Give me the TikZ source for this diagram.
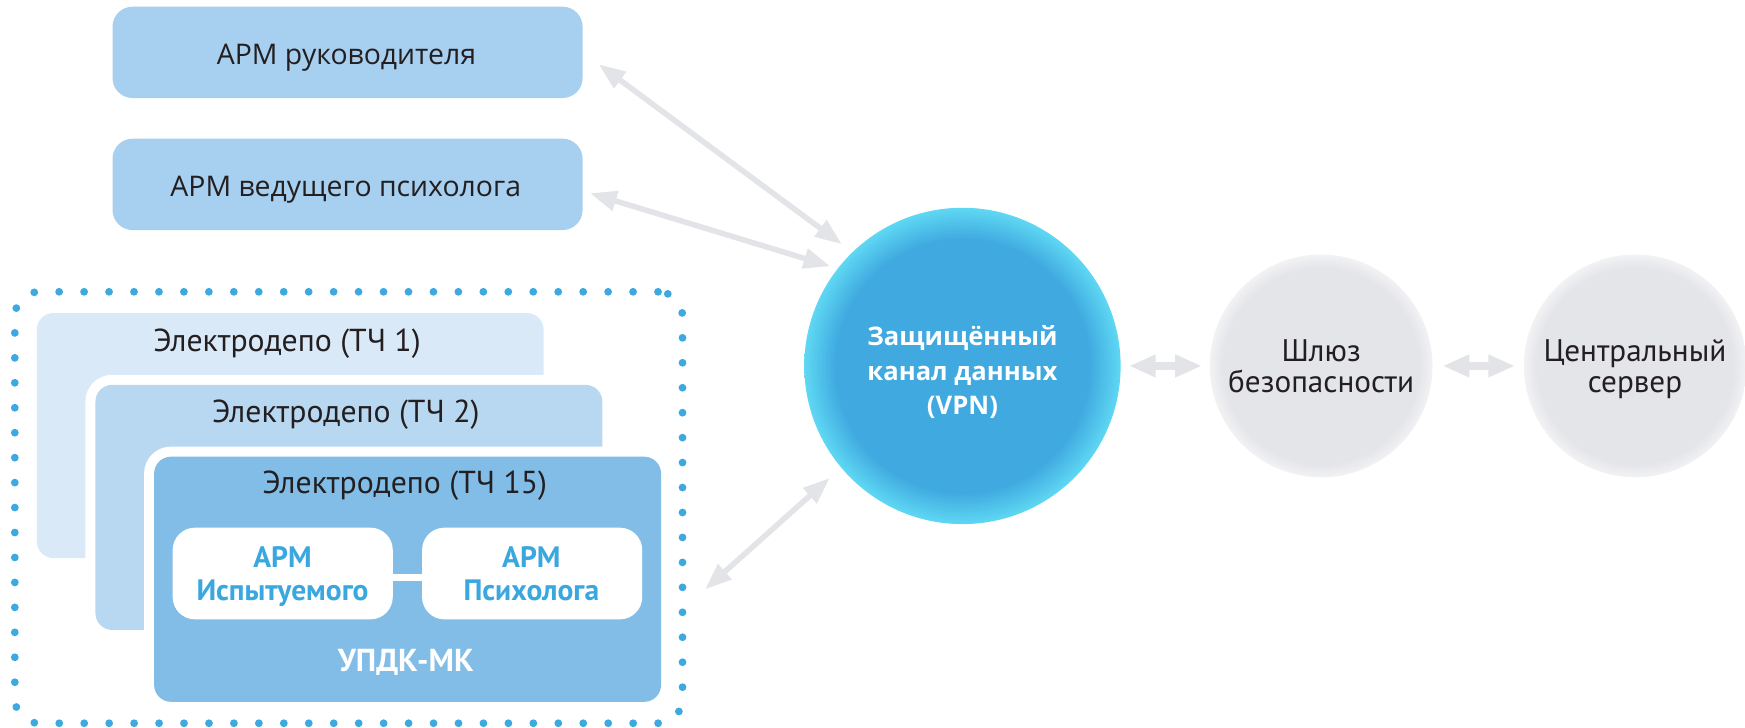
\documentclass[tikz,border=0pt]{standalone}
\usepackage{fontspec}
\setmainfont{Open Sans}
\newfontfamily\ptsans{PT Sans}
\usetikzlibrary{arrows.meta}
\definecolor{topfill}{HTML}{A7CFEF}
\definecolor{pone}{HTML}{D9E9F7}
\definecolor{ptwo}{HTML}{B8D8F1}
\definecolor{pthree}{HTML}{82BDE7}
\definecolor{dotblue}{HTML}{3DA9E1}
\definecolor{txtblue}{HTML}{3AA7DF}
\definecolor{arrowgray}{HTML}{E3E4E8}
\definecolor{darktext}{HTML}{231F20}
\definecolor{vpnblue}{HTML}{3FA9E0}
\definecolor{vpncyan}{HTML}{5FD8F3}
\definecolor{gcore}{HTML}{E4E5E9}
\definecolor{gedge}{HTML}{F2F2F4}
\pgfdeclareradialshading{vpnshade}{\pgfpoint{0bp}{0bp}}{color(0bp)=(vpnblue); color(20bp)=(vpnblue); color(25bp)=(vpncyan); color(50bp)=(vpncyan)}
\pgfdeclareradialshading{grayshade}{\pgfpoint{0bp}{0bp}}{color(0bp)=(gcore); color(22bp)=(gcore); color(25bp)=(gedge); color(50bp)=(gedge)}
\tikzset{
  tbox/.style={fill=topfill, rounded corners=18pt, minimum width=422pt, minimum height=82pt, inner sep=0pt, outer sep=0pt},
  panel/.style={rounded corners=15pt, minimum width=455pt, minimum height=220pt, inner sep=0pt, outer sep=0pt},
  halo/.style={preaction={draw=white, line width=18pt}},
  armbox/.style={fill=white, rounded corners=20pt, minimum width=197.6pt, minimum height=82.3pt, inner sep=0pt, outer sep=0pt},
  grpbox/.style={draw=dotblue, line width=7pt, line cap=round, dash pattern=on 0pt off 22.4pt, rounded corners=22pt, minimum width=599.4pt, minimum height=387.3pt, inner sep=0pt, outer sep=0pt},
  bigarrow/.style={draw=arrowgray, line width=5pt, arrows={Triangle[length=24pt,width=17.5pt]-Triangle[length=24pt,width=17.5pt]}},
  smallarrow/.style={draw=arrowgray, line width=7pt, arrows={Triangle[length=24pt,width=19pt]-Triangle[length=24pt,width=19pt]}},
  lbl/.style={font=\fontsize{25.5}{30}\selectfont, text=darktext, anchor=base, inner sep=0pt},
  dep/.style={font=\ptsans\fontsize{28.5}{32}\selectfont, text=darktext, anchor=base, inner sep=0pt},
  armtxt/.style={font=\ptsans\bfseries\fontsize{26.5}{30}\selectfont, text=txtblue, anchor=base, inner sep=0pt},
  updktxt/.style={font=\ptsans\bfseries\fontsize{28.5}{30}\selectfont, text=white, anchor=base, inner sep=0pt},
  vpntxt/.style={font=\bfseries\fontsize{23}{30}\selectfont, text=white, anchor=base, inner sep=0pt},
  gtxt/.style={font=\ptsans\fontsize{28}{30}\selectfont, text=darktext, anchor=base, inner sep=0pt},
  gcirc/.style={circle, shading=grayshade, minimum size=200pt, inner sep=0pt, outer sep=0pt},
}
\begin{document}
\begin{tikzpicture}[x=1pt,y=-1pt]
\useasboundingbox (0,0) rectangle (1566.5,653.5);
% top boxes
\node[tbox] (box1) at (312,47) {};
\node[lbl] (t1) at (311,57.8) {АРМ руководителя};
\node[tbox] (box2) at (312,165.5) {};
\node[lbl] (t2) at (310.4,176.3) {АРМ ведущего психолога};
% dotted group
\node[grpbox] (grp) at (313,455.6) {};
% depot panels
\node[panel, fill=pone] (p1) at (260.5,391) {};
\node[dep] (l1) at (257.6,315.7) {Электродепо (ТЧ 1)};
\node[panel, halo, fill=ptwo] (p2) at (313.2,455.5) {};
\node[dep] (l2) at (310.4,379.4) {Электродепо (ТЧ 2)};
\node[panel, halo, fill=pthree] (p3) at (365.9,520) {};
\node[dep] (l3) at (363.3,442.9) {Электродепо (ТЧ 15)};
% inner boxes
\node[armbox] (b1) at (253.8,514.85) {};
\node[armbox] (b2) at (477.7,514.85) {};
\draw[white, line width=6pt] ([yshift=-3.5pt]b1.east) -- ([yshift=-3.5pt]b2.west);
\node[armtxt] (b1a) at (253.6,509.5) {АРМ};
\node[armtxt] (b1b) at (253.6,539) {Испытуемого};
\node[armtxt] (b2a) at (477,509.5) {АРМ};
\node[armtxt] (b2b) at (477,539) {Психолога};
\node[updktxt] (updk) at (364.3,602.5) {УПДК-МК};
% circles
\node[circle, shading=vpnshade, minimum size=284pt, inner sep=0pt, outer sep=0pt] (vpn) at (864,328.5) {};
\node[vpntxt] (v1) at (864,310.5) {Защищённый};
\node[vpntxt] (v2) at (864,341.5) {канал данных};
\node[vpntxt] (v3) at (864,372.5) {(VPN)};
\node[gcirc] (gw) at (1186,328.5) {};
\node[gtxt] (g1) at (1186,324.5) {Шлюз};
\node[gtxt] (g2) at (1186,352) {безопасности};
\node[gcirc] (srv) at (1468,328.5) {};
\node[gtxt] (s1) at (1467.7,324.5) {Центральный};
\node[gtxt] (s2) at (1467.7,352) {сервер};
% connectors
\draw[bigarrow, shorten <=18pt, shorten >=12pt] (box1.east) -- (vpn.134);
\draw[bigarrow, shorten >=7pt] ([xshift=6.6pt,yshift=-7.9pt]box2.east) -- (vpn.142.6);
\draw[bigarrow, shorten >=14pt] ([xshift=20.2pt,yshift=-73.5pt]grp.east) -- (vpn.220.8);
\draw[smallarrow, shorten <=7.5pt, shorten >=7pt] (vpn.east) -- (gw.west);
\draw[smallarrow, shorten <=9pt, shorten >=8pt] (gw.east) -- (srv.west);
\end{tikzpicture}
\end{document}
